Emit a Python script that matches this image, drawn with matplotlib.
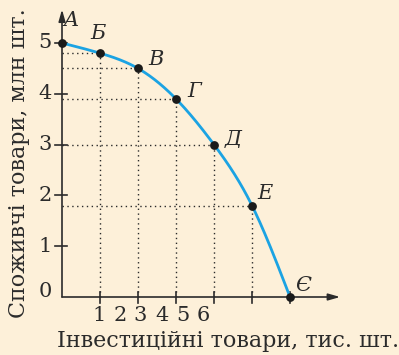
import numpy as np
import matplotlib.pyplot as plt

# production possibilities
invest = [0, 1, 2, 3, 4, 5, 6]
consumer = [5, 4.8, 4.5, 3.9, 3, 1.8, 0]
names = ['A', 'Б', 'В', 'Г', 'Д', 'Е', 'Є']
y_ticks = [0, 1, 2, 3, 4, 5]
x_tick_labels = ['1', '2', '3', '4', '5', '6']

bg = '#fdf0d9'
blue = '#1ba3e3'
ink = '#2b2b2b'

fig = plt.figure(figsize=(3.99, 3.55), dpi=100, facecolor=bg)
ax = fig.add_axes([0, 0, 1, 1])
ax.set_facecolor(bg)
ax.set_xlim(-62 / 38, 337 / 38)
ax.set_ylim(-58 / 50.8, 297 / 50.8)
ax.axis('off')

# natural cubic spline through the points, just for a smooth line
xs = np.array(invest, float)
ys = np.array(consumer, float)
n = len(xs)
h = np.diff(xs)
A = np.zeros((n, n))
b = np.zeros(n)
A[0, 0] = A[-1, -1] = 1
for i in range(1, n - 1):
    A[i, i - 1] = h[i - 1]
    A[i, i] = 2 * (h[i - 1] + h[i])
    A[i, i + 1] = h[i]
    b[i] = 6 * ((ys[i + 1] - ys[i]) / h[i] - (ys[i] - ys[i - 1]) / h[i - 1])
M = np.linalg.solve(A, b)
cx, cy = [], []
for i in range(n - 1):
    t = np.linspace(xs[i], xs[i + 1], 40)
    a = xs[i + 1] - t
    c = t - xs[i]
    s = (M[i] * a ** 3 + M[i + 1] * c ** 3) / (6 * h[i]) \
        + (ys[i] / h[i] - M[i] * h[i] / 6) * a \
        + (ys[i + 1] / h[i] - M[i + 1] * h[i] / 6) * c
    cx.extend(t)
    cy.extend(s)

# dotted guides
for x, y in zip(invest[1:-1], consumer[1:-1]):
    ax.plot([0, x], [y, y], ls=(0, (1, 2.5)), color=ink, lw=1)
    ax.plot([x, x], [0, y], ls=(0, (1, 2.5)), color=ink, lw=1)

ax.plot(cx, cy, color=blue, lw=2, zorder=3, solid_capstyle='round')
ax.scatter(invest, consumer, s=28, color='#1a1a1a', zorder=4)

# axes with arrows
ax.annotate('', xy=(0, 5.66), xytext=(0, 0),
            arrowprops=dict(arrowstyle='-|>,head_length=0.7,head_width=0.2',
                            color=ink, lw=1.2, shrinkA=0, shrinkB=0))
ax.annotate('', xy=(7.32, 0), xytext=(0, 0),
            arrowprops=dict(arrowstyle='-|>,head_length=0.7,head_width=0.2',
                            color=ink, lw=1.2, shrinkA=0, shrinkB=0))

for y in y_ticks[1:]:
    ax.plot([-0.18, 0.13], [y, y], color=ink, lw=1.2)
for y in y_ticks:
    off = 0.1 if y == 0 else 0
    ax.text(-0.27, y + off, str(y), ha='right', va='center',
            family='DejaVu Serif', fontsize=15, color=ink)

for x in invest[1:]:
    ax.plot([x, x], [-0.12, 0.1], color=ink, lw=1.2)
label_x = [0.99, 1.53, 2.06, 2.63, 3.18, 3.72]
for x, lab in zip(label_x, x_tick_labels):
    ax.text(x, -0.36, lab, ha='center', va='center',
            family='DejaVu Serif', fontsize=15, color=ink)

# point names
offsets = [(0.25, 0.45), (-0.05, 0.38), (0.48, 0.17), (0.48, 0.14),
           (0.5, 0.1), (0.35, 0.23), (0.35, 0.23)]
for x, y, nm, (dx, dy) in zip(invest, consumer, names, offsets):
    ax.text(x + dx, y + dy, nm, ha='center', va='center', style='italic',
            family='DejaVu Serif', fontsize=15, color=ink)

ax.text(-1.14, 2.64, 'Споживчі товари, млн шт.', rotation=90, ha='center',
        va='center', family='DejaVu Serif', fontsize=16, color=ink)
ax.text(4.37, -0.86, 'Інвестиційні товари, тис. шт.', ha='center',
        va='center', family='DejaVu Serif', fontsize=16, color=ink)

fig.savefig('out.png', dpi=100, facecolor=bg)
